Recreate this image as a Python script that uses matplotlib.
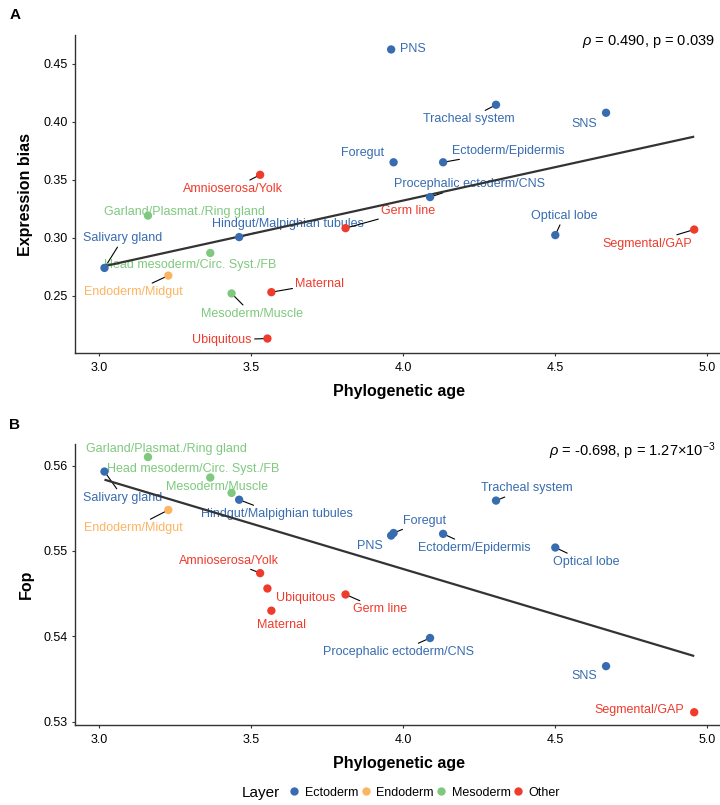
import numpy as np
import matplotlib
matplotlib.use("Agg")
import matplotlib.pyplot as plt
from matplotlib.lines import Line2D

plt.rcParams['font.family'] = ['Liberation Sans', 'DejaVu Sans']
plt.rcParams['mathtext.fontset'] = 'custom'
plt.rcParams['mathtext.rm'] = 'Liberation Sans'
plt.rcParams['mathtext.it'] = 'Liberation Sans:italic'

# ---------------- data ----------------
tissues = ["PNS", "Tracheal system", "SNS", "Foregut", "Ectoderm/Epidermis",
           "Procephalic ectoderm/CNS", "Optical lobe", "Salivary gland",
           "Hindgut/Malpighian tubules", "Endoderm/Midgut",
           "Garland/Plasmat./Ring gland", "Head mesoderm/Circ. Syst./FB",
           "Mesoderm/Muscle", "Amnioserosa/Yolk", "Germ line", "Segmental/GAP",
           "Maternal", "Ubiquitous"]
layer = ["Ectoderm", "Ectoderm", "Ectoderm", "Ectoderm", "Ectoderm",
         "Ectoderm", "Ectoderm", "Ectoderm", "Ectoderm", "Endoderm",
         "Mesoderm", "Mesoderm", "Mesoderm", "Other", "Other", "Other",
         "Other", "Other"]
phylo_age = [3.961, 4.306, 4.668, 3.969, 4.132, 4.089, 4.501, 3.018, 3.461,
             3.228, 3.161, 3.366, 3.436, 3.530, 3.811, 4.958, 3.567, 3.554]
expr_bias = [0.4623, 0.4146, 0.4077, 0.365, 0.365, 0.335, 0.3022, 0.2739,
             0.3005, 0.2673, 0.319, 0.2868, 0.2519, 0.3542, 0.3082, 0.307,
             0.2530, 0.213]
fop = [0.5518, 0.5559, 0.5365, 0.5521, 0.5520, 0.5398, 0.5504, 0.5593,
       0.5560, 0.5548, 0.5610, 0.5586, 0.5568, 0.5474, 0.5449, 0.5311,
       0.5430, 0.5456]
layers = ["Ectoderm", "Endoderm", "Mesoderm", "Other"]
stats_a = r"$\rho$ = 0.490, p = 0.039"
stats_b = r"$\rho$ = -0.698, p = 1.27×10$^{-3}$"

# ---------------- styles ----------------
colors = {"Ectoderm": "#386cb0", "Endoderm": "#fdb462",
          "Mesoderm": "#7fc97f", "Other": "#ef3b2c"}

# label offsets in pixels (dx right, dy down) and whether a segment is drawn
offs_a = {
    "PNS": (22, 0, False), "Tracheal system": (-27.7, 14.4, True),
    "SNS": (-21.5, 11, False), "Foregut": (-30.7, -9.3, False),
    "Ectoderm/Epidermis": (65.2, -11.7, True),
    "Procephalic ectoderm/CNS": (39.2, -13, True),
    "Optical lobe": (8.7, -19, True), "Salivary gland": (18.5, -29.6, True),
    "Hindgut/Malpighian tubules": (48.5, -13, True),
    "Endoderm/Midgut": (-35, 16.3, True),
    "Garland/Plasmat./Ring gland": (36.7, -3.7, False),
    "Head mesoderm/Circ. Syst./FB": (-20, 12.4, False),
    "Mesoderm/Muscle": (20.1, 20.3, True),
    "Amnioserosa/Yolk": (-27.5, 14, True), "Germ line": (62.6, -17.3, True),
    "Segmental/GAP": (-46.6, 14, True), "Maternal": (48.4, -8.4, True),
    "Ubiquitous": (-45.3, 1.4, True),
}
offs_b = {
    "PNS": (-21.3, 10.3, False), "Tracheal system": (30.5, -12.3, True),
    "SNS": (-21.5, 9.6, False), "Foregut": (30.5, -12.4, True),
    "Ectoderm/Epidermis": (30.8, 14, True),
    "Procephalic ectoderm/CNS": (-31.3, 14, True),
    "Optical lobe": (30.5, 14.4, True), "Salivary gland": (18.5, 26, True),
    "Hindgut/Malpighian tubules": (37.3, 14.3, True),
    "Endoderm/Midgut": (-35, 18, True),
    "Garland/Plasmat./Ring gland": (18.2, -8, False),
    "Head mesoderm/Circ. Syst./FB": (-17.3, -8.3, False),
    "Mesoderm/Muscle": (-15, -5.6, False),
    "Amnioserosa/Yolk": (-31.3, -12.6, True), "Germ line": (34.3, 15, True),
    "Segmental/GAP": (-54.6, -2.3, False), "Maternal": (9.9, 14.7, False),
    "Ubiquitous": (38.4, 9.6, False),
}

W, H = 720, 805
fig = plt.figure(figsize=(W / 100, H / 100), dpi=100)


def px_axes(left, top, right, bottom):
    return fig.add_axes([left / W, 1 - bottom / H, (right - left) / W,
                         (bottom - top) / H])


def panel(ax, y, offs, ylabel, yticks, stats, stats_y, letter, letter_y):
    x = np.asarray(phylo_age)
    y = np.asarray(y)
    cols = [colors[l] for l in layer]
    xr = x.max() - x.min()
    yr = y.max() - y.min()
    ax.set_xlim(x.min() - 0.05 * xr, x.max() + 0.05 * xr)
    ax.set_ylim(y.min() - 0.05 * yr, y.max() + 0.05 * yr)
    ax.scatter(x, y, s=36, c=cols, zorder=4, linewidths=0)
    k, b = np.polyfit(x, y, 1)
    xs = np.array([x.min(), x.max()])
    ax.plot(xs, k * xs + b, color="#333333", lw=1.6, zorder=3,
            solid_capstyle="butt")
    for t, xi, yi, c in zip(tissues, x, y, cols):
        dx, dy, seg = offs[t]
        kw = {}
        if seg:
            kw["arrowprops"] = dict(arrowstyle="-", color="black", lw=0.8,
                                    shrinkA=0, shrinkB=0)
        ax.annotate(t, (xi, yi), xytext=(dx, -dy), textcoords="offset pixels",
                    ha="center", va="center", fontsize=9, color=c,
                    zorder=2, **kw)
    for s in ["top", "right"]:
        ax.spines[s].set_visible(False)
    for s in ["left", "bottom"]:
        ax.spines[s].set_color("#333333")
        ax.spines[s].set_linewidth(1.0)
    ax.set_xticks([3.0, 3.5, 4.0, 4.5, 5.0])
    ax.set_xticklabels(["3.0", "3.5", "4.0", "4.5", "5.0"])
    ax.set_yticks(yticks)
    ax.set_yticklabels([f"{v:.2f}" for v in yticks])
    ax.tick_params(axis="both", length=2.5, width=0.8, color="#333333",
                   labelsize=9, labelcolor="black")
    ax.tick_params(axis="x", pad=3.8)
    ax.tick_params(axis="y", pad=2.5)
    ax.set_xlabel("Phylogenetic age", fontsize=11.5, fontweight="bold",
                  labelpad=7.5)
    ax.set_ylabel(ylabel, fontsize=11.5, fontweight="bold", labelpad=7.5)
    fig.text(715 / W, 1 - stats_y / H, stats, ha="right", va="center",
             fontsize=10.5)
    fig.text(15 / W, 1 - letter_y / H, letter, ha="center", va="center",
             fontsize=11, fontweight="bold")


axA = px_axes(75, 35, 723.7, 353)
panel(axA, expr_bias, offs_a, "Expression bias",
      [0.25, 0.30, 0.35, 0.40, 0.45], stats_a, 41, "A", 15)
axB = px_axes(75, 444.3, 723.7, 725)
panel(axB, fop, offs_b, "Fop", [0.53, 0.54, 0.55, 0.56], stats_b, 451, "B", 425)

# legend
fig.text(242 / W, 1 - 792.7 / H, "Layer", ha="left", va="center", fontsize=11)
handles = [Line2D([], [], marker="o", ls="", markersize=6,
                  markerfacecolor=colors[l], markeredgewidth=0) for l in layers]
fig.legend(handles, layers, loc="center", ncol=4, frameon=False,
           bbox_to_anchor=(424 / W, 1 - 792.7 / H), fontsize=9,
           handletextpad=0.35, columnspacing=0.1, handlelength=1.0,
           borderpad=0, borderaxespad=0)

fig.savefig("out.png", dpi=100)
